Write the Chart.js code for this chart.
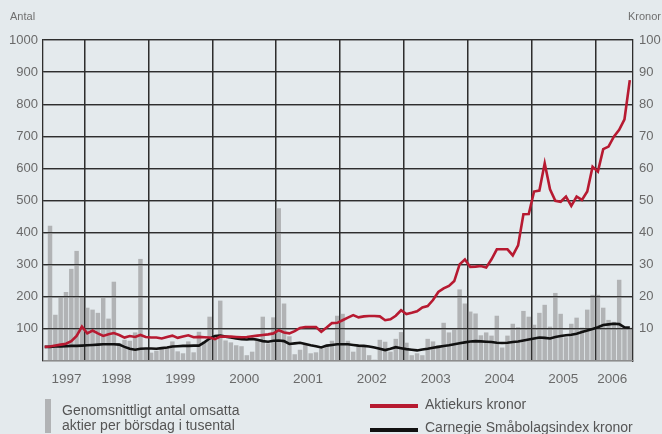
<!DOCTYPE html>
<html lang="sv">
<head>
<meta charset="UTF-8">
<script src="https://cdn.jsdelivr.net/npm/chart.js@4.4.1/dist/chart.umd.min.js"></script>
<title>Aktiekurs och omsättning</title>
<style>
    html, body { margin: 0; padding: 0; background: #e4eaed; }
    #wrap { width: 662px; height: 434px; }
</style>
</head>
<body>
<div id="wrap"><canvas id="chart" width="662" height="434"></canvas></div>
<script>
// månadsdata, index 0 = juni 1997
var years = ['1997', '1998', '1999', '2000', '2001', '2002', '2003', '2004', '2005', '2006'];
var monthsBefore1998 = 7;   // jun-dec 1997
var monthsIn2006 = 7;       // jan-jul 2006

// genomsnittligt antal omsatta aktier per börsdag i tusental (vänster axel)
var omsattning = [
    420, 143, 199, 214, 286, 342, 201,
    165, 159, 149, 195, 131, 246, 55, 65, 62, 88, 317, 35,
    25, 31, 37, 40, 60, 29, 23, 60, 26, 90, 60, 137,
    65, 187, 63, 57, 48, 45, 17, 28, 63, 137, 54, 135,
    475, 178, 76, 20, 34, 49, 23, 26, 38, 49, 62, 140,
    146, 62, 28, 45, 48, 17, 3, 65, 59, 28, 68, 89,
    56, 17, 23, 17, 68, 60, 48, 118, 88, 96, 222, 178,
    153, 147, 79, 88, 78, 140, 41, 78, 115, 104, 155, 137,
    112, 149, 174, 106, 211, 146, 73, 115, 134, 103, 159, 205,
    205, 165, 127, 121, 252, 103, 103
];

// kronor (höger axel), index -1 = maj 1997
var aktiekurs = [
    4.4,
    4.5, 4.8, 5.1, 5.4, 6.2, 7.8, 10.7,
    8.6, 9.5, 8.6, 7.8, 8.3, 8.7, 8.1, 7.3, 7.8, 7.5, 8.1, 7.5,
    7.3, 7.3, 7.0, 7.5, 7.9, 7.2, 7.6, 8.0, 7.4, 7.5, 7.4, 7.3,
    6.8, 7.6, 7.6, 7.6, 7.5, 7.4, 7.5, 7.7, 7.9, 8.1, 8.3, 8.6,
    9.6, 8.9, 8.6, 9.3, 10.3, 10.6, 10.6, 10.6, 9.1, 10.4, 11.8, 11.9,
    12.7, 13.5, 14.3, 13.6, 13.9, 14.0, 14.0, 13.9, 12.7, 13.0, 14.1, 15.8,
    14.6, 15.0, 15.5, 16.7, 17.1, 19.0, 21.5, 22.6, 23.4, 24.9, 30.1, 31.6,
    29.3, 29.4, 29.6, 29.1, 31.7, 34.8, 34.8, 34.8, 32.9, 36.0, 45.7, 45.8,
    52.8, 53.1, 61.6, 53.5, 49.9, 49.6, 51.2, 48.3, 51.2, 50.2, 52.8, 60.5,
    59.0, 66.0, 66.8, 69.9, 72.0, 75.3, 87.5
];

var carnegie = [
    4.4,
    4.4, 4.5, 4.5, 4.6, 4.7, 4.7, 4.8,
    4.9, 5.0, 5.1, 5.2, 5.2, 5.2, 5.1, 4.4, 3.8, 3.5, 3.8, 3.9,
    3.9, 3.8, 4.0, 4.2, 4.5, 4.6, 4.7, 4.7, 4.8, 4.8, 5.8, 7.0,
    7.8, 7.9, 7.6, 7.3, 7.0, 6.8, 6.7, 6.9, 6.6, 6.2, 6.0, 6.3,
    6.4, 6.2, 5.3, 5.5, 5.7, 5.3, 4.9, 4.6, 4.2, 4.8, 5.0, 5.2,
    5.2, 5.2, 5.0, 4.8, 4.7, 4.5, 4.2, 3.8, 3.4, 3.8, 4.3, 4.0,
    3.7, 3.5, 3.3, 3.6, 3.8, 4.1, 4.4, 4.7, 4.9, 5.2, 5.5, 5.8,
    6.1, 6.2, 6.1, 6.0, 5.9, 5.7, 5.6, 5.7, 5.9, 6.1, 6.4, 6.7,
    7.0, 7.3, 7.2, 7.0, 7.5, 7.8, 8.0, 8.2, 8.5, 9.0, 9.5, 10.0,
    10.5, 11.2, 11.4, 11.6, 11.5, 10.5, 10.4
];

var legendBars = ['Genomsnittligt antal omsatta', 'aktier per börsdag i tusental'];
var legendKurs = 'Aktiekurs kronor';
var legendIndex = 'Carnegie Småbolagsindex kronor';

var bg = '#e4eaed';
var grey = '#b1b3b5';
var red = '#b71a31';
var gridCol = '#2e2e2e';
var textCol = '#6a6a6a';

var xMin = -1.32, xMax = 109.6;

// årsgränser och årsmitt på x-axeln
var yearBounds = [];
var yearMids = {};
for (var k = 0; k < years.length - 1; k++) {
    yearBounds.push(monthsBefore1998 - 0.5 + 12 * k);
}
for (var k = 0; k < years.length; k++) {
    var a = k == 0 ? xMin + 1 : yearBounds[k - 1];
    var b = k == years.length - 1 ? yearBounds[k - 1] + monthsIn2006 - 0.6 : yearBounds[k];
    yearMids[((a + b) / 2).toFixed(2)] = years[k];
}

var barData = omsattning.map(function (v, i) { return { x: i, y: v }; });
var kursData = aktiekurs.map(function (v, i) { return { x: i - 1, y: v }; });
var indexData = carnegie.map(function (v, i) { return { x: i - 1, y: v }; });

var extras = {
    id: 'extras',
    beforeDraw: function (chart) {
        var c = chart.ctx;
        c.save();
        c.fillStyle = bg;
        c.fillRect(0, 0, chart.width, chart.height);
        c.restore();
    },
    afterDatasetDraw: function (chart, args) {
        // rutnätet ligger över staplarna men under linjerna
        if (args.index === 0) {
            chart.scales.y.drawGrid(chart.chartArea);
            chart.scales.x.drawGrid(chart.chartArea);
        }
    },
    afterDraw: function (chart) {
        var c = chart.ctx;
        c.save();
        c.fillStyle = '#707070';
        c.font = '11px "Liberation Sans", Arial, sans-serif';
        c.textBaseline = 'middle';
        c.textAlign = 'left';
        c.fillText('Antal', 10, 17);
        c.textAlign = 'right';
        c.fillText('Kronor', 661, 17);

        // förklaring
        c.textAlign = 'left';
        c.fillStyle = grey;
        c.fillRect(45, 399, 6, 34);
        c.fillStyle = '#555';
        c.font = '14px "Liberation Sans", Arial, sans-serif';
        c.fillText(legendBars[0], 62, 411);
        c.fillText(legendBars[1], 62, 426);

        c.lineWidth = 4;
        c.strokeStyle = red;
        c.beginPath(); c.moveTo(370, 406); c.lineTo(418, 406); c.stroke();
        c.strokeStyle = '#111';
        c.beginPath(); c.moveTo(370, 430); c.lineTo(418, 430); c.stroke();
        c.fillText(legendKurs, 425, 405);
        c.fillText(legendIndex, 425, 428);
        c.restore();
    }
};

var ctx = document.getElementById('chart');
var myChart = new Chart(ctx, {
    type: 'bar',
    data: {
        datasets: [{
            type: 'bar',
            label: 'Omsättning',
            data: barData,
            yAxisID: 'y',
            backgroundColor: grey,
            barThickness: 3.8,
            order: 2
        }, {
            type: 'line',
            label: legendKurs,
            data: kursData,
            yAxisID: 'y2',
            borderColor: red,
            borderWidth: 2.6,
            pointRadius: 0,
            tension: 0,
            order: 0
        }, {
            type: 'line',
            label: legendIndex,
            data: indexData,
            yAxisID: 'y2',
            borderColor: '#111',
            borderWidth: 2.6,
            pointRadius: 0,
            tension: 0,
            order: 1
        }]
    },
    options: {
        responsive: false,
        animation: false,
        layout: { padding: { top: 40, left: 0, right: 0, bottom: 0 } },
        plugins: {
            legend: { display: false },
            tooltip: { enabled: false }
        },
        scales: {
            x: {
                type: 'linear',
                min: xMin,
                max: xMax,
                offset: false,
                afterBuildTicks: function (scale) {
                    var t = [];
                    yearBounds.forEach(function (v) { t.push({ value: v }); });
                    Object.keys(yearMids).forEach(function (v) { t.push({ value: parseFloat(v) }); });
                    t.sort(function (p, q) { return p.value - q.value; });
                    scale.ticks = t;
                },
                afterFit: function (scale) { scale.height = 73; },
                ticks: {
                    autoSkip: false,
                    maxRotation: 0,
                    padding: 10,
                    color: textCol,
                    font: { family: '"Liberation Sans", Arial, sans-serif', size: 13.5 },
                    callback: function (v) { return yearMids[v.toFixed(2)] || ''; }
                },
                grid: {
                    offset: false,
                    drawTicks: false,
                    lineWidth: 1.3,
                    color: function (c) {
                        if (!c.tick) return 'transparent';
                        return yearBounds.indexOf(c.tick.value) >= 0 ? gridCol : 'transparent';
                    }
                },
                border: { display: true, color: '#8c8c8c', width: 1.3 }
            },
            y: {
                position: 'left',
                min: 0,
                max: 1000,
                afterFit: function (scale) { scale.width = 43; },
                ticks: {
                    stepSize: 100,
                    padding: 5,
                    color: textCol,
                    font: { family: '"Liberation Sans", Arial, sans-serif', size: 13 },
                    callback: function (v) { return v === 0 ? '' : v; }
                },
                grid: {
                    drawTicks: false,
                    lineWidth: 1.3,
                    color: function (c) { return c.tick && c.tick.value === 0 ? '#8c8c8c' : gridCol; }
                },
                border: { display: true, color: gridCol, width: 1.3 }
            },
            y2: {
                position: 'right',
                min: 0,
                max: 100,
                afterFit: function (scale) { scale.width = 29; },
                ticks: {
                    stepSize: 10,
                    padding: 6,
                    color: textCol,
                    font: { family: '"Liberation Sans", Arial, sans-serif', size: 13 },
                    callback: function (v) { return v === 0 ? '' : v; }
                },
                grid: { display: false, drawTicks: false },
                border: { display: true, color: gridCol, width: 1.3 }
            }
        }
    },
    plugins: [extras]
});
</script>
</body>
</html>
